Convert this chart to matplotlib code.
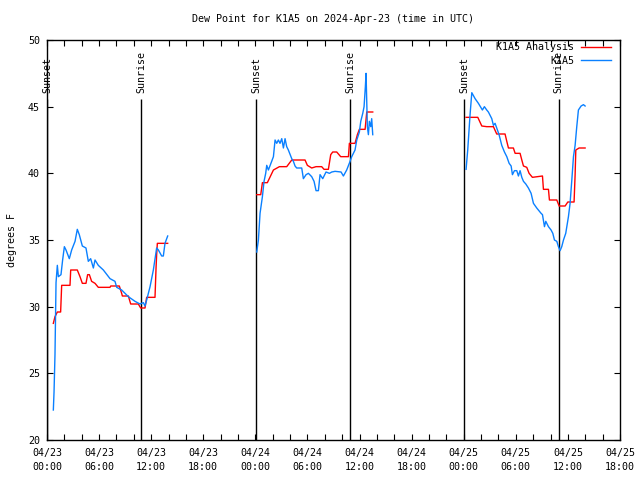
import matplotlib
matplotlib.use("Agg")
import matplotlib.pyplot as plt
import numpy as np
from datetime import datetime, timedelta

BASE = datetime(2024, 4, 23, 0, 0)

# ---- observed dew point (K1A5), hours since 04/23 00:00 UTC ----
obs_hours_d1 = [0.73, 0.81, 0.92, 1.04, 1.19, 1.31, 1.61, 1.80, 2.00, 2.19, 2.57, 2.84, 3.23, 3.49,
                3.72, 4.07, 4.49, 4.76, 5.03, 5.34, 5.53, 5.91, 6.49, 7.26, 7.83, 8.03, 8.60, 9.37,
                10.14, 10.71, 11.10, 11.29, 11.48, 11.87, 12.25, 12.63, 12.83, 13.21, 13.40, 13.59, 13.90]
obs_vals_d1 = [22.25, 23.6, 26.4, 31.8, 33.1, 32.25, 32.4, 33.5, 34.5, 34.25, 33.6, 34.25, 34.9, 35.8,
               35.4, 34.55, 34.4, 33.4, 33.6, 32.9, 33.5, 33.1, 32.75, 32.1, 31.9, 31.45, 31.25, 30.75,
               30.4, 30.2, 30.3, 30.05, 30.5, 31.5, 32.75, 34.4, 34.25, 33.8, 33.8, 34.75, 35.3]

obs_hours_d2 = [24.16, 24.35, 24.54, 24.81, 25.00, 25.19, 25.31, 25.50, 25.88, 26.08, 26.27, 26.46,
                26.65, 26.84, 27.04, 27.23, 27.42, 27.61, 27.80, 28.19, 28.38, 28.57, 28.76, 29.34,
                29.53, 29.84, 30.11, 30.49, 30.76, 30.99, 31.26, 31.45, 31.76, 32.14, 32.53, 32.80,
                33.18, 33.87, 34.14, 34.52, 34.91, 35.10, 35.48, 35.68, 35.98, 36.14, 36.37, 36.52,
                36.67, 36.75, 36.90, 37.02, 37.13, 37.29, 37.40, 37.52]
obs_vals_d2 = [34.1, 35.0, 37.0, 38.25, 39.4, 40.0, 40.6, 40.25, 40.9, 41.25, 42.5, 42.25,
               42.5, 42.25, 42.6, 41.9, 42.6, 42.0, 41.75, 41.1, 40.9, 40.55, 40.4, 40.4,
               39.6, 39.9, 40.0, 39.75, 39.4, 38.7, 38.7, 39.9, 39.6, 40.1, 40.0, 40.1,
               40.15, 40.1, 39.8, 40.25, 40.9, 41.25, 41.75, 42.5, 43.1, 43.9, 44.5, 45.0,
               46.5, 47.5, 43.5, 42.9, 43.9, 43.5, 44.1, 42.9]

obs_hours_d3 = [48.27, 48.46, 48.73, 48.93, 49.31, 49.69, 50.15, 50.38, 50.65, 50.84, 51.23, 51.42,
                51.61, 51.80, 52.07, 52.38, 52.69, 52.96, 53.23, 53.46, 53.61, 53.84, 54.11, 54.30,
                54.49, 54.69, 54.88, 55.15, 55.45, 55.76, 56.03, 56.41, 56.91, 57.07, 57.30, 57.45,
                57.76, 58.06, 58.26, 58.45, 58.72, 58.91, 59.10, 59.29, 59.49, 59.75, 60.06, 60.25,
                60.45, 60.64, 60.83, 61.02, 61.21, 61.52, 61.79, 61.98]
obs_vals_d3 = [40.3, 41.75, 44.4, 46.05, 45.6, 45.25, 44.75, 45.0, 44.75, 44.6, 44.1, 43.6,
               43.75, 43.4, 42.9, 42.1, 41.6, 41.25, 40.75, 40.55, 39.9, 40.2, 40.2, 39.8,
               40.2, 39.7, 39.4, 39.2, 38.9, 38.5, 37.75, 37.4, 37.0, 36.9, 36.0, 36.4,
               36.0, 35.75, 35.5, 35.0, 34.9, 34.5, 34.2, 34.5, 35.0, 35.5, 36.75, 37.75,
               39.5, 41.25, 42.1, 43.5, 44.75, 45.05, 45.15, 45.05]

# ---- analysis dew point (K1A5 Analysis) ----
ana_hours_d1 = [0.73, 0.92, 1.19, 1.57, 1.69, 2.65, 2.73, 3.49, 3.80, 4.07, 4.49, 4.68, 4.88, 5.14,
                5.53, 5.91, 7.26, 7.34, 8.33, 8.60, 8.68, 9.37, 9.64, 10.52, 10.79, 11.29, 11.48,
                12.44, 12.56, 12.63, 12.71, 13.90]
ana_vals_d1 = [28.75, 29.25, 29.6, 29.6, 31.6, 31.6, 32.75, 32.75, 32.25, 31.75, 31.75, 32.4, 32.4, 31.9,
               31.75, 31.45, 31.45, 31.55, 31.55, 31.0, 30.8, 30.8, 30.2, 30.2, 29.9, 29.9, 30.7,
               30.7, 32.9, 33.9, 34.75, 34.75]

ana_hours_d2 = [24.16, 24.62, 24.81, 25.38, 26.08, 26.77, 27.61, 28.19, 29.72, 29.99, 30.49, 30.99,
                31.64, 31.91, 32.41, 32.68, 32.91, 33.37, 33.83, 34.72, 34.83, 35.48, 35.75, 35.98,
                36.64, 36.75, 36.83, 37.52]
ana_vals_d2 = [38.4, 38.4, 39.3, 39.3, 40.25, 40.5, 40.5, 41.0, 41.0, 40.6, 40.4, 40.5,
               40.5, 40.3, 40.3, 41.4, 41.6, 41.6, 41.25, 41.25, 42.25, 42.25, 42.9, 43.3,
               43.3, 44.05, 44.6, 44.6]

ana_hours_d3 = [48.27, 49.62, 50.08, 50.65, 51.42, 51.80, 52.76, 52.96, 53.15, 53.72, 53.92, 54.49,
                54.69, 54.88, 55.26, 55.53, 55.91, 57.07, 57.18, 57.76, 57.87, 58.72, 58.99, 59.68,
                59.99, 60.71, 60.83, 60.91, 61.29, 61.98]
ana_vals_d3 = [44.2, 44.2, 43.55, 43.5, 43.5, 42.95, 42.95, 42.4, 41.9, 41.9, 41.5, 41.5,
               41.0, 40.55, 40.45, 40.0, 39.7, 39.8, 38.8, 38.8, 38.0, 38.0, 37.55, 37.55,
               37.85, 37.85, 39.9, 41.75, 41.9, 41.9]

sunset_hours = [0.05, 24.08, 48.05]
sunrise_hours = [10.83, 34.9, 58.95]

title_text = "Dew Point for K1A5 on 2024-Apr-23 (time in UTC)"
ylabel_text = "degrees F"
ana_label = "K1A5 Analysis"
obs_label = "K1A5"

RED = "#ff0000"
BLUE = "#0a80ff"
FONT = "DejaVu Sans Mono"
FS = 7.2

plt.rcParams["font.family"] = [FONT]

fig = plt.figure(figsize=(6.4, 4.8), dpi=100)
ax = fig.add_axes([47 / 640, 40 / 480, 573 / 640, 400 / 480])

for i, (h, v) in enumerate([(ana_hours_d1, ana_vals_d1), (ana_hours_d2, ana_vals_d2), (ana_hours_d3, ana_vals_d3)]):
    ax.plot(h, v, color=RED, lw=1.0, label=ana_label if i == 0 else None, zorder=3)
for i, (h, v) in enumerate([(obs_hours_d1, obs_vals_d1), (obs_hours_d2, obs_vals_d2), (obs_hours_d3, obs_vals_d3)]):
    ax.plot(h, v, color=BLUE, lw=1.0, label=obs_label if i == 0 else None, zorder=4)

for h in sunset_hours:
    ax.vlines(h, 20, 45.55, color="black", lw=1.0, zorder=2)
    ax.text(h, 46.05, "Sunset", rotation=90, ha="center", va="bottom", fontsize=FS)
for h in sunrise_hours:
    ax.vlines(h, 20, 45.55, color="black", lw=1.0, zorder=2)
    ax.text(h, 46.05, "Sunrise", rotation=90, ha="center", va="bottom", fontsize=FS)

ax.set_xlim(0, 66)
ax.set_ylim(20, 50)

xt = np.arange(0, 67, 2)
xl = []
for h in xt:
    if h % 6 == 0:
        d = BASE + timedelta(hours=int(h))
        xl.append(d.strftime("%m/%d") + "\n" + d.strftime("%H:%M"))
    else:
        xl.append("")
ax.set_xticks(xt)
ax.set_xticklabels(xl, linespacing=1.45)
ax.set_yticks(np.arange(20, 51, 5))

ax.tick_params(direction="in", length=4, width=0.8, top=True, right=True,
               labelsize=FS, colors="black")
ax.tick_params(axis="x", pad=6)
ax.tick_params(axis="y", pad=5)
for s in ax.spines.values():
    s.set_linewidth(1.0)
    s.set_color("black")

ax.set_ylabel(ylabel_text, fontsize=FS)
ax.yaxis.set_label_coords(-0.053, 0.5)

fig.text(333 / 640, 1 - 19 / 480, title_text, ha="center", va="center", fontsize=FS)

ax.legend(loc="upper right", bbox_to_anchor=(611 / 640, 1 - 42 / 480), bbox_transform=fig.transFigure,
          frameon=False, markerfirst=False, fontsize=FS, handlelength=3.0, handletextpad=0.7,
          labelspacing=0.35, borderpad=0, borderaxespad=0)

fig.savefig("out.png", dpi=100)
